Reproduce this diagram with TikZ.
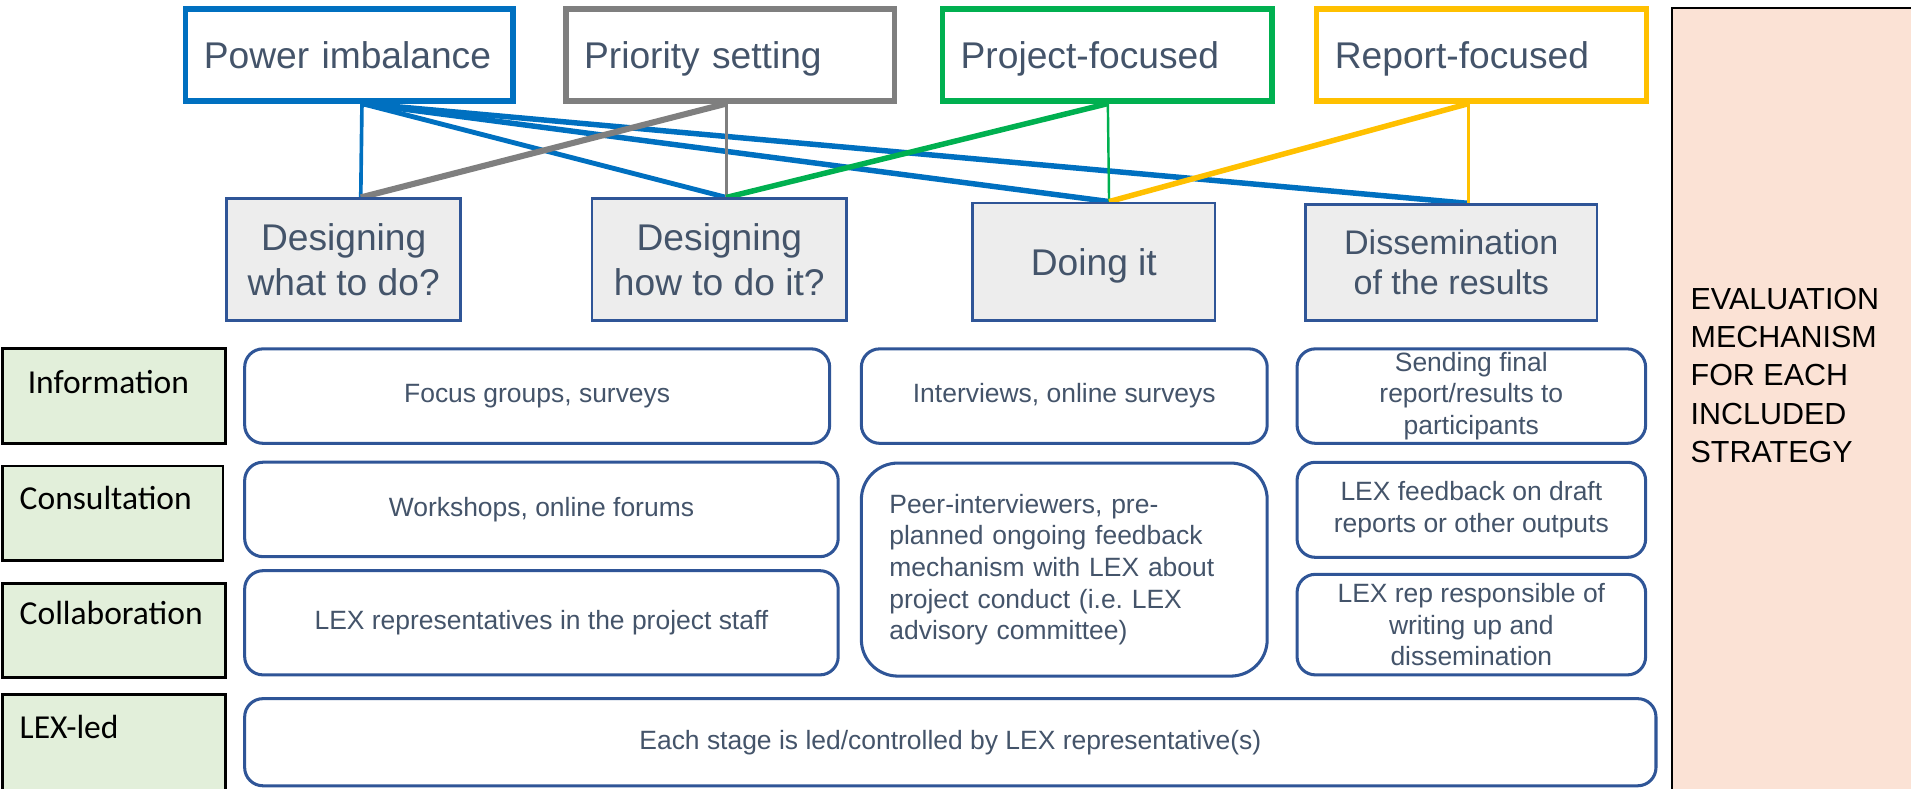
\documentclass[tikz,border=0pt]{standalone}
\usepackage{fontspec}
\setmainfont{Liberation Sans}
\newfontfamily\calib{Carlito}
\definecolor{cblue}{HTML}{0070C0}
\definecolor{cgray}{HTML}{7F7F7F}
\definecolor{cgreen}{HTML}{00B050}
\definecolor{cyellow}{HTML}{FFC000}
\definecolor{txt}{HTML}{44546A}
\definecolor{stagefill}{HTML}{EDEDED}
\definecolor{navy}{HTML}{2F5597}
\definecolor{labfill}{HTML}{E2EFDA}
\definecolor{evfill}{HTML}{FBE2D5}
\pgfdeclarelayer{bg}
\pgfsetlayers{bg,main}
\frenchspacing
\begin{document}
\begin{tikzpicture}[x=1pt,y=-1pt,
 topbox/.style={draw=#1, line width=4.5pt, fill=white, minimum height=75.5pt, inner xsep=15pt, inner ysep=0pt, text=txt, font=\fontsize{30.5}{36}\selectfont, align=left, text height=22pt, text depth=0pt},
 stagebox/.style={draw=navy, line width=2pt, fill=stagefill, inner sep=0pt, text=txt, align=center, font=\fontsize{30.5}{37}\selectfont},
 optbox/.style={draw=navy, line width=2.5pt, fill=white, rounded corners=15pt, inner sep=0pt, text=txt, align=center, font=\fontsize{21.7}{25.8}\selectfont},
 labbox/.style={draw=black, line width=2pt, fill=labfill, inner sep=0pt},
 labtext/.style={inner sep=0pt, anchor=base west, font=\calib\fontsize{27.5}{33}\selectfont},
 linkthick/.style={line width=4.5pt},
 linkthin/.style={line width=2.5pt}
]
\useasboundingbox (0,0) rectangle (1568,647);

% evaluation column
\node[draw=black, line width=1.5pt, fill=evfill, minimum width=203pt, minimum height=648.5pt, inner sep=0pt] (eval) at (1473.5,330.75) {};
\node[anchor=west, inner sep=0pt, align=left, font=\fontsize{25}{31.5}\selectfont] (evaltext) at (1387,308)
 {EVALUATION\\MECHANISM\\FOR EACH\\INCLUDED\\STRATEGY};

% top boxes
\node[topbox=cblue, minimum width=268.5pt, text width=238.5pt] (power) at (286.5,45) {Power imbalance};
\node[topbox=cgray, minimum width=269.5pt, text width=239.5pt] (priority) at (599,45) {Priority setting};
\node[topbox=cgreen, minimum width=270.5pt, text width=240.5pt] (project) at (908.5,45) {Project-focused};
\node[topbox=cyellow, minimum width=270.5pt, text width=240.5pt] (report) at (1215.5,45) {Report-focused};

% stage boxes
\node[stagebox, minimum width=192pt, minimum height=100pt] (dwhat) at (282,213) {Designing\\what to do?};
\node[stagebox, minimum width=209pt, minimum height=100pt] (dhow) at (590.2,213) {Designing\\how to do it?};
\node[stagebox, minimum width=199pt, minimum height=96.6pt, text depth=0pt] (doing) at (897.5,214.7) {Doing it};
\node[stagebox, minimum width=239.5pt, minimum height=95pt, font=\fontsize{28}{33}\selectfont] (dissem) at (1190.75,215.4) {Dissemination\\of the results};

% ports
\coordinate (pwB) at ([xshift=10.5pt]power.south);
\coordinate (prB) at ([xshift=-3pt]priority.south);
\coordinate (pjB) at ([xshift=0.5pt]project.south);
\coordinate (rpB) at ([xshift=-10.5pt]report.south);
\coordinate (dwT) at ([xshift=14pt]dwhat.north);
\coordinate (dhT) at ([xshift=5.8pt]dhow.north);
\coordinate (doT) at ([xshift=12.5pt]doing.north);
\coordinate (dsT) at ([xshift=14.25pt]dissem.north);

\begin{pgfonlayer}{bg}
\draw[cblue, line width=3pt] (pwB) -- (dwT);
\draw[cblue, line width=4pt] (pwB) -- (dhT);
\draw[cblue, linkthick] (pwB) -- (doT);
\draw[cblue, linkthick] (pwB) -- (dsT);
\draw[cgray, line width=5pt] (prB) -- (dwT);
\draw[cgray, linkthin] (prB) -- (dhT);
\draw[cgreen, linkthick] (pjB) -- (dhT);
\draw[cgreen, line width=2pt] (pjB) -- (doT);
\draw[cyellow, linkthick] (rpB) -- (doT);
\draw[cyellow, line width=3pt] (rpB) -- (dsT);
\end{pgfonlayer}

% level labels
\node[labbox, minimum width=183pt, minimum height=78pt] (info) at (93.5,325) {};
\node[labbox, minimum width=181pt, minimum height=77.5pt] (consult) at (92.5,421.25) {};
\node[labbox, minimum width=183pt, minimum height=77.4pt] (collab) at (93.5,517.3) {};
\node[labbox, minimum width=183pt, minimum height=89pt] (lexled) at (93.5,614.5) {};
\node[labtext] (infotext) at (22.6,322.7) {Information};
\node[labtext] (consulttext) at (16,418.4) {Consultation};
\node[labtext] (collabtext) at (16,512.7) {Collaboration};
\node[labtext] (lexledtext) at (16,605.7) {LEX-led};

% strategy boxes
\node[optbox, minimum width=480pt, minimum height=77.5pt] (focus) at (440.75,325) {Focus groups, surveys};
\node[optbox, minimum width=333pt, minimum height=77.5pt] (interv) at (873.25,325) {Interviews, online surveys};
\node[optbox, minimum width=286pt, minimum height=77.5pt] (sending) at (1207.25,325) {Sending final\\report/results to\\participants};
\node[optbox, minimum width=487pt, minimum height=77.5pt] (workshops) at (444.25,418) {Workshops, online forums};
\node[optbox, minimum width=333pt, minimum height=174.8pt, rounded corners=30pt, align=left, inner xsep=23pt, text width=287pt, font=\fontsize{21.7}{26}\selectfont] (peer) at (873.25,467.35)
 {Peer-interviewers, pre-\\planned ongoing feedback\\mechanism with LEX about\\project conduct (i.e. LEX\\advisory committee)};
\node[optbox, minimum width=286pt, minimum height=78pt, font=\fontsize{21.7}{26}\selectfont] (feedback) at (1207.25,418.3) {LEX feedback on draft\\reports or other outputs};
\node[optbox, minimum width=487pt, minimum height=85.5pt] (lexrep) at (444.25,511) {LEX representatives in the project staff};
\node[optbox, minimum width=286pt, minimum height=82.5pt, font=\fontsize{21.7}{26}\selectfont] (lexresp) at (1207.25,512.5) {LEX rep responsible of\\writing up and\\dissemination};
\node[optbox, minimum width=1158pt, minimum height=71.5pt] (each) at (779.75,609) {Each stage is led/controlled by LEX representative(s)};
\end{tikzpicture}
\end{document}
